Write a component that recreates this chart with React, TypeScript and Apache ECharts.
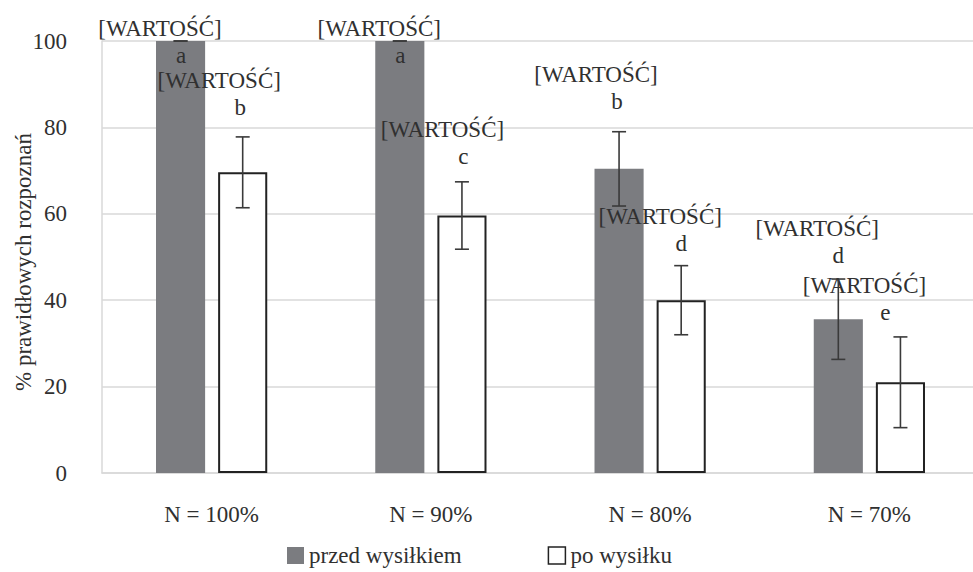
import React, { useEffect, useRef } from "react";
import * as echarts from "echarts";

const categories = ["N = 100%", "N = 90%", "N = 80%", "N = 70%"];
const beforeName = "przed wysiłkiem";
const afterName = "po wysiłku";
const beforeValues = [100, 100, 70.4, 35.6];
const beforeErrors = [0, 0, 8.6, 9.3];
const afterValues = [69.6, 59.6, 40, 21];
const afterErrors = [8.2, 7.8, 8, 10.5];
const beforeLetters = ["a", "a", "b", "d"];
const afterLetters = ["b", "c", "d", "e"];
const valuePlaceholder = "[WARTOŚĆ]";
const yAxisTitle = "% prawidłowych rozpoznań";

// layout tweaks for the manually placed data labels (dx, dy from bar top)
const beforeLabelShift = [[-20.5, 27.8], [-20.5, 27.8], [-23, -53.5], [-21, -50.7]];
const afterLabelShift = [[-23.5, -51.7], [-19.5, -45.9], [-21, -43.7], [-36, -55.9]];

const FONT = "Liberation Serif";
const TEXT = "#303030";
const FS = 23;
const BAR_FRAC = 0.224;
const GAP_FRAC = 0.265;

function errorSeries(name: string, values: number[], errors: number[], sign: number) {
  return {
    type: "custom",
    name,
    z: 5,
    silent: true,
    data: values.map((v, i) => [i, v, errors[i]]),
    renderItem: (params: any, api: any) => {
      const idx = api.value(0);
      const v = api.value(1);
      const e = api.value(2);
      const band = api.size([1, 0])[0];
      const barW = band * BAR_FRAC;
      const off = ((barW + barW * GAP_FRAC) / 2) * sign;
      const hi = api.coord([idx, v + e]);
      const lo = api.coord([idx, v - e]);
      const x = hi[0] + off;
      const cap = 7;
      const style = { stroke: "#3a3a3a", lineWidth: 1.6 };
      return {
        type: "group",
        children: [
          { type: "line", shape: { x1: x, y1: hi[1], x2: x, y2: lo[1] }, style },
          { type: "line", shape: { x1: x - cap, y1: hi[1], x2: x + cap, y2: hi[1] }, style },
          { type: "line", shape: { x1: x - cap, y1: lo[1], x2: x + cap, y2: lo[1] }, style },
        ],
      };
    },
  };
}

function labelled(values: number[], letters: string[], shifts: number[][]) {
  return values.map((v, i) => ({
    value: v,
    label: {
      offset: shifts[i],
      formatter: `{v|${valuePlaceholder}}\n{l|${letters[i]}}`,
    },
  }));
}

const labelBase = {
  show: true,
  position: "top",
  distance: 0,
  fontFamily: FONT,
  fontSize: FS,
  color: TEXT,
  lineHeight: 27,
  rich: {
    v: { fontFamily: FONT, fontSize: FS, color: TEXT, lineHeight: 27 },
    l: { fontFamily: FONT, fontSize: FS, color: TEXT, lineHeight: 27, padding: [0, 0, 0, 42] },
  },
};

export default function App() {
  const ref = useRef<HTMLDivElement>(null);
  useEffect(() => {
    if (!ref.current) return;
    const chart = echarts.init(ref.current, undefined, { renderer: "svg" });
    chart.setOption({
      animation: false,
      backgroundColor: "#ffffff",
      textStyle: { fontFamily: FONT },
      grid: {
        left: 102,
        width: 877,
        top: 41,
        height: 432,
        containLabel: false,
        outerBoundsMode: "none",
      },
      legend: {
        top: 544,
        left: 287,
        padding: 0,
        itemWidth: 17,
        itemHeight: 17,
        itemGap: 86,
        icon: "rect",
        textStyle: { fontFamily: FONT, fontSize: FS, color: TEXT },
        data: [
          { name: beforeName, itemStyle: { color: "#7b7c80", borderWidth: 0 } },
          { name: afterName, itemStyle: { color: "#ffffff", borderColor: "#222", borderWidth: 1.5 } },
        ],
      },
      xAxis: {
        type: "category",
        data: categories,
        axisTick: { show: false },
        axisLine: { lineStyle: { color: "#d9d9d9", width: 1.5 } },
        axisLabel: { fontFamily: FONT, fontSize: FS, color: TEXT, margin: 30 },
      },
      yAxis: {
        type: "value",
        min: 0,
        max: 100,
        interval: 20,
        name: yAxisTitle,
        nameLocation: "middle",
        nameRotate: 90,
        nameGap: 67,
        nameMoveOverlap: false,
        nameTextStyle: { fontFamily: FONT, fontSize: FS, color: TEXT, padding: [0, 10, 0, 0] },
        axisLine: { show: true, lineStyle: { color: "#d9d9d9", width: 1.5 } },
        axisTick: { show: false },
        splitLine: { lineStyle: { color: "#d9d9d9", width: 1.5 } },
        axisLabel: { fontFamily: FONT, fontSize: FS, color: TEXT, margin: 35 },
      },
      series: [
        {
          type: "bar",
          name: beforeName,
          barWidth: `${BAR_FRAC * 100}%`,
          barGap: `${GAP_FRAC * 100}%`,
          itemStyle: { color: "#7b7c80" },
          label: labelBase,
          data: labelled(beforeValues, beforeLetters, beforeLabelShift),
        },
        {
          type: "bar",
          name: afterName,
          barWidth: `${BAR_FRAC * 100}%`,
          barGap: `${GAP_FRAC * 100}%`,
          itemStyle: { color: "#ffffff", borderColor: "#222222", borderWidth: 2 },
          label: labelBase,
          data: labelled(afterValues, afterLetters, afterLabelShift),
        },
        errorSeries("err-before", beforeValues, beforeErrors, -1),
        errorSeries("err-after", afterValues, afterErrors, 1),
      ],
    });
    return () => chart.dispose();
  }, []);
  return (
    <div
      ref={ref}
      style={{ position: "fixed", left: 0, top: 0, width: 973, height: 572, background: "#fff" }}
    />
  );
}
